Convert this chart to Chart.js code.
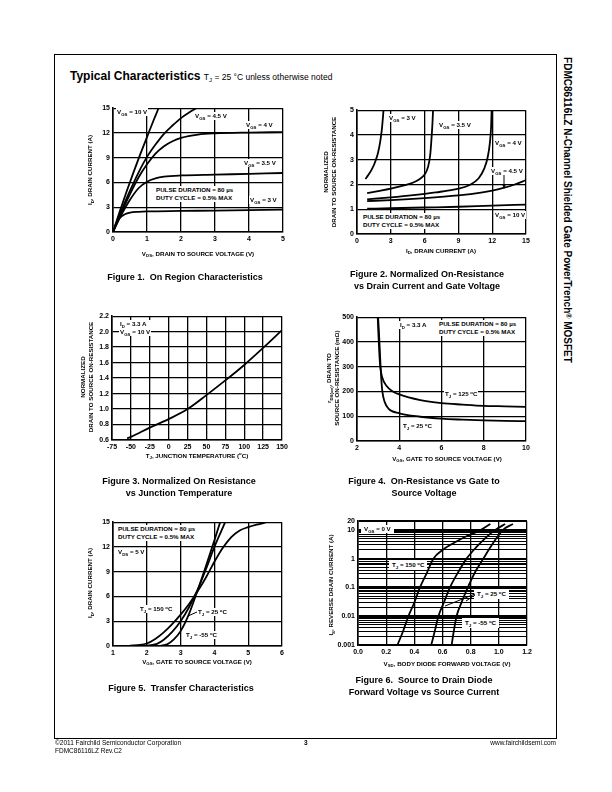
<!DOCTYPE html>
<html>
<head>
<meta charset="utf-8">
<script src="https://cdn.jsdelivr.net/npm/chart.js@4"></script>
<style>
body{margin:0;background:#fff;}
#page{position:relative;width:612px;height:792px;overflow:hidden;font-family:"Liberation Sans",Arial,sans-serif;color:#000;}
canvas{position:absolute;}
.abs{position:absolute;white-space:nowrap;}
.note{position:absolute;white-space:nowrap;font-weight:bold;font-size:6.2px;line-height:8px;background:#fff;padding:0 1px;transform:translateY(-50%);}
.xt{position:absolute;white-space:nowrap;font-weight:bold;font-size:6.2px;transform:translate(-50%,-50%);}
.yt{position:absolute;white-space:nowrap;font-weight:bold;font-size:6.2px;line-height:8px;text-align:center;transform:translate(-50%,-50%) rotate(-90deg);}
.cap{position:absolute;white-space:nowrap;font-weight:bold;font-size:9px;line-height:12px;text-align:center;transform:translate(-50%,-50%);}
sub{font-size:70%;vertical-align:-1.5px;line-height:0;}
sup{font-size:70%;vertical-align:2.5px;line-height:0;}
</style>
</head>
<body>
<div id="page">
    <div class="abs" style="left:54px;top:54px;width:501px;height:683px;border:1px solid #000;"></div>
    <div class="abs" style="left:70px;top:69px;font-size:12px;font-weight:bold;">Typical Characteristics <span style="font-size:8.5px;font-weight:normal;">T<sub>J</sub> = 25 °C unless otherwise noted</span></div>
    <div class="abs" style="left:567px;top:210px;font-size:10px;font-weight:bold;transform:translate(-50%,-50%) rotate(90deg);">FDMC86116LZ N-Channel Shielded Gate PowerTrench<sup>®</sup> MOSFET</div>

    <!-- figure 1 -->
    <canvas id="fig1"></canvas>
    <div class="note" style="left:116px;top:112px;">V<sub>GS</sub> = 10 V</div>
    <div class="note" style="left:194px;top:116px;">V<sub>GS</sub> = 4.5 V</div>
    <div class="note" style="left:245px;top:125px;">V<sub>GS</sub> = 4 V</div>
    <div class="note" style="left:243px;top:163px;">V<sub>GS</sub> = 3.5 V</div>
    <div class="note" style="left:155px;top:194px;">PULSE DURATION = 80 µs<br>DUTY CYCLE = 0.5% MAX</div>
    <div class="note" style="left:249px;top:200px;">V<sub>GS</sub> = 3 V</div>
    <div class="xt" style="left:198px;top:253px;">V<sub>DS</sub>, DRAIN TO SOURCE VOLTAGE (V)</div>
    <div class="yt" style="left:90px;top:170px;">I<sub>D</sub>, DRAIN CURRENT (A)</div>
    <div class="cap" style="left:185px;top:277px;">Figure 1.&nbsp; On Region Characteristics</div>

    <!-- figure 2 -->
    <canvas id="fig2"></canvas>
    <div class="note" style="left:388px;top:118px;">V<sub>GS</sub> = 3 V</div>
    <div class="note" style="left:438px;top:125px;">V<sub>GS</sub> = 3.5 V</div>
    <div class="note" style="left:494px;top:143px;">V<sub>GS</sub> = 4 V</div>
    <div class="note" style="left:490px;top:171px;">V<sub>GS</sub> = 4.5 V</div>
    <div class="note" style="left:494px;top:215px;">V<sub>GS</sub> = 10 V</div>
    <div class="note" style="left:362px;top:221px;">PULSE DURATION = 80 µs<br>DUTY CYCLE = 0.5% MAX</div>
    <div class="xt" style="left:441px;top:250px;">I<sub>D</sub>, DRAIN CURRENT (A)</div>
    <div class="yt" style="left:330px;top:172px;">NORMALIZED<br>DRAIN TO SOURCE ON-RESISTANCE</div>
    <div class="cap" style="left:427px;top:280px;">Figure 2. Normalized On-Resistance<br>vs Drain Current and Gate Voltage</div>

    <!-- figure 3 -->
    <canvas id="fig3"></canvas>
    <div class="note" style="left:119px;top:328px;">I<sub>D</sub> = 3.3 A<br>V<sub>GS</sub> = 10 V</div>
    <div class="xt" style="left:197px;top:455px;">T<sub>J</sub>, JUNCTION TEMPERATURE (<sup>o</sup>C)</div>
    <div class="yt" style="left:87px;top:377px;">NORMALIZED<br>DRAIN TO SOURCE ON-RESISTANCE</div>
    <div class="cap" style="left:179px;top:487px;">Figure 3. Normalized On Resistance<br>vs Junction Temperature</div>

    <!-- figure 4 -->
    <canvas id="fig4"></canvas>
    <div class="note" style="left:399px;top:325px;">I<sub>D</sub> = 3.3 A</div>
    <div class="note" style="left:438px;top:328px;">PULSE DURATION = 80 µs<br>DUTY CYCLE = 0.5% MAX</div>
    <div class="note" style="left:444px;top:394px;">T<sub>J</sub> = 125 <sup>o</sup>C</div>
    <div class="note" style="left:402px;top:426px;">T<sub>J</sub> = 25 <sup>o</sup>C</div>
    <div class="xt" style="left:447px;top:458px;">V<sub>GS</sub>, GATE TO SOURCE VOLTAGE (V)</div>
    <div class="yt" style="left:333px;top:378px;">r<sub>DS(on)</sub>, DRAIN TO<br>SOURCE ON-RESISTANCE (mΩ)</div>
    <div class="cap" style="left:424px;top:487px;">Figure 4.&nbsp; On-Resistance vs Gate to<br>Source Voltage</div>

    <!-- figure 5 -->
    <canvas id="fig5"></canvas>
    <div class="note" style="left:117px;top:533px;">PULSE DURATION = 80 µs<br>DUTY CYCLE = 0.5% MAX</div>
    <div class="note" style="left:117px;top:552px;">V<sub>DS</sub> = 5 V</div>
    <div class="note" style="left:139px;top:609px;">T<sub>J</sub> = 150 <sup>o</sup>C</div>
    <div class="note" style="left:197px;top:612px;">T<sub>J</sub> = 25 <sup>o</sup>C</div>
    <div class="note" style="left:185px;top:635px;">T<sub>J</sub> = -55 <sup>o</sup>C</div>
    <div class="xt" style="left:197px;top:661px;">V<sub>GS</sub>, GATE TO SOURCE VOLTAGE (V)</div>
    <div class="yt" style="left:90px;top:583px;">I<sub>D</sub>, DRAIN CURRENT (A)</div>
    <div class="cap" style="left:181px;top:688px;">Figure 5.&nbsp; Transfer Characteristics</div>

    <!-- figure 6 -->
    <canvas id="fig6"></canvas>
    <div class="note" style="left:361px;top:529px;padding:0 3px;">V<sub>GS</sub> = 0 V</div>
    <div class="note" style="left:389px;top:565px;padding:1px 3px;">T<sub>J</sub> = 150 <sup>o</sup>C</div>
    <div class="note" style="left:474px;top:594px;padding:1px 3px;">T<sub>J</sub> = 25 <sup>o</sup>C</div>
    <div class="note" style="left:462px;top:623px;padding:1px 3px;">T<sub>J</sub> = -55 <sup>o</sup>C</div>
    <div class="xt" style="left:447px;top:663px;">V<sub>SD</sub>, BODY DIODE FORWARD VOLTAGE (V)</div>
    <div class="yt" style="left:331px;top:585px;">I<sub>S</sub>, REVERSE DRAIN CURRENT (A)</div>
    <div class="cap" style="left:424px;top:686px;">Figure 6.&nbsp; Source to Drain Diode<br>Forward Voltage vs Source Current</div>

    <svg class="abs" style="left:0;top:0;" width="612" height="792">
        <line x1="504" y1="175" x2="504" y2="185" stroke="#000" stroke-width="1"/>
        <polygon points="502,184 506,184 504,189" fill="#000"/>
        <line x1="197" y1="612" x2="188" y2="616" stroke="#000" stroke-width="1"/>
        <line x1="475" y1="594" x2="445" y2="606" stroke="#000" stroke-width="1"/>
        <line x1="475" y1="595" x2="466" y2="601" stroke="#000" stroke-width="1"/>
    </svg>

    <div class="abs" style="left:55px;top:739px;font-size:6.5px;line-height:8px;">©2011 Fairchild Semiconductor Corporation<br>FDMC86116LZ Rev.C2</div>
    <div class="abs" style="left:304px;top:739px;font-size:6.5px;font-weight:bold;">3</div>
    <div class="abs" style="right:56px;top:739px;font-size:6.5px;">www.fairchildsemi.com</div>
</div>
<script>
    //figure 1 - id vs vds
    const f1XTicks = [0, 1, 2, 3, 4, 5];
    const f1YTicks = [0, 3, 6, 9, 12, 15];
    const f1Vgs10 = [[0,0],[0.2,2.5],[0.4,4.9],[0.6,7.2],[0.8,9.4],[1,11.5],[1.2,13.6],[1.34,15]];
    const f1Vgs45 = [[0,0],[0.25,2.6],[0.5,5],[0.75,7.2],[1,9.1],[1.25,10.6],[1.5,11.9],[1.75,12.9],[2,13.8],[2.25,14.5],[2.45,15]];
    const f1Vgs4 = [[0,0],[0.25,2.4],[0.5,4.6],[0.75,6.6],[1,8.2],[1.25,9.5],[1.5,10.4],[1.75,11],[2,11.4],[2.5,11.8],[3,11.95],[4,12.05],[5,12.1]];
    const f1Vgs35 = [[0,0],[0.25,2.1],[0.5,3.9],[0.75,5.3],[1,6.1],[1.25,6.5],[1.5,6.7],[2,6.85],[3,6.95],[4,7.05],[5,7.15]];
    const f1Vgs3 = [[0,0],[0.1,1.1],[0.2,1.7],[0.35,2.15],[0.5,2.35],[0.75,2.45],[1,2.5],[2,2.55],[3,2.6],[4,2.65],[5,2.7]];

    //figure 2 - normalized rds vs id
    const f2XTicks = [0, 3, 6, 9, 12, 15];
    const f2YTicks = [0, 1, 2, 3, 4, 5];
    const f2Vgs3 = [[0.75,2.22],[1,2.38],[1.3,2.6],[1.6,2.9],[1.85,3.25],[2.05,3.7],[2.2,4.2],[2.3,4.7],[2.35,5]];
    const f2Vgs35 = [[0.9,1.65],[2,1.74],[3,1.83],[4,1.94],[5,2.08],[5.5,2.2],[6,2.4],[6.3,2.7],[6.5,3.2],[6.62,3.9],[6.7,4.5],[6.75,5]];
    const f2Vgs4 = [[0.9,1.4],[3,1.48],[5,1.57],[7,1.68],[9,1.83],[10,1.98],[10.8,2.25],[11.3,2.65],[11.6,3.1],[11.8,3.7],[11.9,4.3],[11.95,5]];
    const f2Vgs45 = [[0.9,1.33],[3,1.37],[6,1.45],[9,1.56],[11,1.67],[12,1.75],[13,1.86],[14,2.0],[15,2.18]];
    const f2Vgs10 = [[0.9,1.02],[3,1.04],[6,1.07],[9,1.1],[12,1.15],[15,1.19]];

    //figure 3 - normalized rds vs tj
    const f3XTicks = [-75, -50, -25, 0, 25, 50, 75, 100, 125, 150];
    const f3YTicks = [0.6, 0.8, 1.0, 1.2, 1.4, 1.6, 1.8, 2.0, 2.2];
    const f3Temp = [-55, -50, -25, 0, 25, 50, 75, 100, 125, 150];
    const f3Rds = [0.62, 0.64, 0.76, 0.87, 1.0, 1.18, 1.37, 1.57, 1.79, 2.02];

    //figure 4 - rds(on) vs vgs
    const f4XTicks = [2, 4, 6, 8, 10];
    const f4YTicks = [0, 100, 200, 300, 400, 500];
    const f4T125 = [[2.98,500],[3.02,420],[3.06,350],[3.1,300],[3.2,255],[3.4,222],[3.7,200],[4,188],[5,165],[6,153],[7,147],[8,142],[9,140],[10,138]];
    const f4T25 = [[3.0,500],[3.05,420],[3.1,330],[3.15,250],[3.2,200],[3.3,160],[3.5,130],[4,112],[5,98],[6,90],[7,86],[8,83],[9,81],[10,80]];

    //figure 5 - transfer
    const f5XTicks = [1, 2, 3, 4, 5, 6];
    const f5YTicks = [0, 3, 6, 9, 12, 15];
    const f5T150 = [[1.5,0.05],[1.8,0.12],[2,0.3],[2.25,0.85],[2.5,1.65],[2.75,2.65],[3,3.8],[3.25,5.1],[3.5,6.6],[3.75,8.3],[4,10.2],[4.25,11.9],[4.5,13.2],[4.75,14],[5,14.4],[5.25,14.7],[5.55,15]];
    const f5T25 = [[1.5,0.02],[2,0.05],[2.3,0.25],[2.5,0.75],[2.75,1.7],[3,3],[3.25,4.7],[3.5,6.8],[3.75,9.3],[4,12],[4.2,13.9],[4.32,15]];
    const f5Tm55 = [[2.4,0.02],[2.6,0.2],[2.8,0.8],[3,1.8],[3.25,3.9],[3.5,6.7],[3.75,9.7],[4,12.8],[4.17,15]];

    //figure 6 - body diode
    const f6XTicks = [0, 0.2, 0.4, 0.6, 0.8, 1.0, 1.2];
    const f6YLabels = [0.001, 0.01, 0.1, 1, 10, 20];
    const f6T150 = [[0.28,0.001],[0.32,0.003],[0.358,0.01],[0.4,0.03],[0.44,0.1],[0.49,0.33],[0.535,1],[0.6,2],[0.68,3.5],[0.77,6],[0.87,9.8],[0.94,16]];
    const f6T25 = [[0.52,0.001],[0.545,0.003],[0.571,0.01],[0.61,0.03],[0.653,0.1],[0.71,0.33],[0.771,1],[0.84,2.5],[0.91,5.5],[0.975,10],[1.045,16]];
    const f6Tm55 = [[0.665,0.001],[0.68,0.003],[0.70,0.01],[0.735,0.03],[0.78,0.1],[0.83,0.33],[0.89,1],[0.95,3],[1.03,10],[1.1,16]];

    //log grid lines: every 1..9 of each decade, then 10 and 20
    let f6YGrid = [];
    [0.001, 0.01, 0.1, 1].forEach(d => {
        for (let m = 1; m < 10; m++) f6YGrid.push(+(d * m).toPrecision(2));
    });
    f6YGrid.push(10, 20);

    //plot boxes on the page: left, top, right, bottom
    const AXW = 34, AXH = 14, PADT = 6, PADR = 12;
    const fontSpec = {family: '"Liberation Sans", Arial, sans-serif', size: 7, weight: 'bold'};

    function curve(pairs) {
        return {
            data: pairs.map(p => ({x: p[0], y: p[1]})),
            borderColor: '#000',
            borderWidth: 1.8,
            pointRadius: 0,
            cubicInterpolationMode: 'monotone',
            fill: false
        };
    }

    function makeChart(id, box, series, xTicks, yTicks, opt) {
        opt = opt || {};
        const cv = document.getElementById(id);
        cv.width = box[2] - box[0] + AXW + PADR;
        cv.height = box[3] - box[1] + PADT + AXH;
        cv.style.left = (box[0] - AXW) + 'px';
        cv.style.top = (box[1] - PADT) + 'px';
        const yGrid = opt.yGrid || yTicks;
        return new Chart(cv, {
            type: 'line',
            data: {datasets: series.map(curve)},
            options: {
                responsive: false,
                animation: false,
                devicePixelRatio: 1,
                layout: {padding: {top: PADT, right: PADR, left: 0, bottom: 0}},
                plugins: {legend: {display: false}, tooltip: {enabled: false}},
                scales: {
                    x: {
                        type: 'linear',
                        min: xTicks[0],
                        max: xTicks[xTicks.length - 1],
                        afterBuildTicks: s => { s.ticks = xTicks.map(v => ({value: v})); },
                        afterFit: s => { s.height = AXH; },
                        grid: {color: '#000', lineWidth: 1.3, drawTicks: false},
                        border: {color: '#000', width: 1.6},
                        ticks: {color: '#000', font: fontSpec, padding: 3, maxRotation: 0, autoSkip: false,
                            callback: opt.xFmt || (v => v)}
                    },
                    y: {
                        type: opt.log ? 'logarithmic' : 'linear',
                        min: yGrid[0],
                        max: yGrid[yGrid.length - 1],
                        afterBuildTicks: s => { s.ticks = yGrid.map(v => ({value: v})); },
                        afterFit: s => { s.width = AXW; },
                        grid: {color: '#000', drawTicks: false,
                            lineWidth: c => (opt.log && c.tick && !f6YLabels.includes(c.tick.value)) ? 1.1 : (opt.log ? 2 : 1.3)},
                        border: {color: '#000', width: 1.6},
                        ticks: {color: '#000', font: fontSpec, padding: 3, autoSkip: false,
                            callback: opt.yFmt || (v => v)}
                    }
                }
            }
        });
    }

    makeChart('fig1', [113, 107, 283, 232], [f1Vgs10, f1Vgs45, f1Vgs4, f1Vgs35, f1Vgs3], f1XTicks, f1YTicks);
    makeChart('fig2', [357, 109, 526, 234], [f2Vgs3, f2Vgs35, f2Vgs4, f2Vgs45, f2Vgs10], f2XTicks, f2YTicks);
    makeChart('fig3', [112, 315, 282, 440], [f3Temp.map((t, i) => [t, f3Rds[i]])], f3XTicks, f3YTicks,
        {yFmt: v => v.toFixed(1)});
    makeChart('fig4', [357, 316, 526, 441], [f4T125, f4T25], f4XTicks, f4YTicks);
    makeChart('fig5', [113, 521, 282, 646], [f5T150, f5T25, f5Tm55], f5XTicks, f5YTicks);
    makeChart('fig6', [358, 520, 527, 645], [f6T150, f6T25, f6Tm55], f6XTicks, f6YLabels,
        {log: true, yGrid: f6YGrid, xFmt: v => v.toFixed(1), yFmt: v => f6YLabels.includes(v) ? String(v) : ''});
</script>
</body>
</html>
